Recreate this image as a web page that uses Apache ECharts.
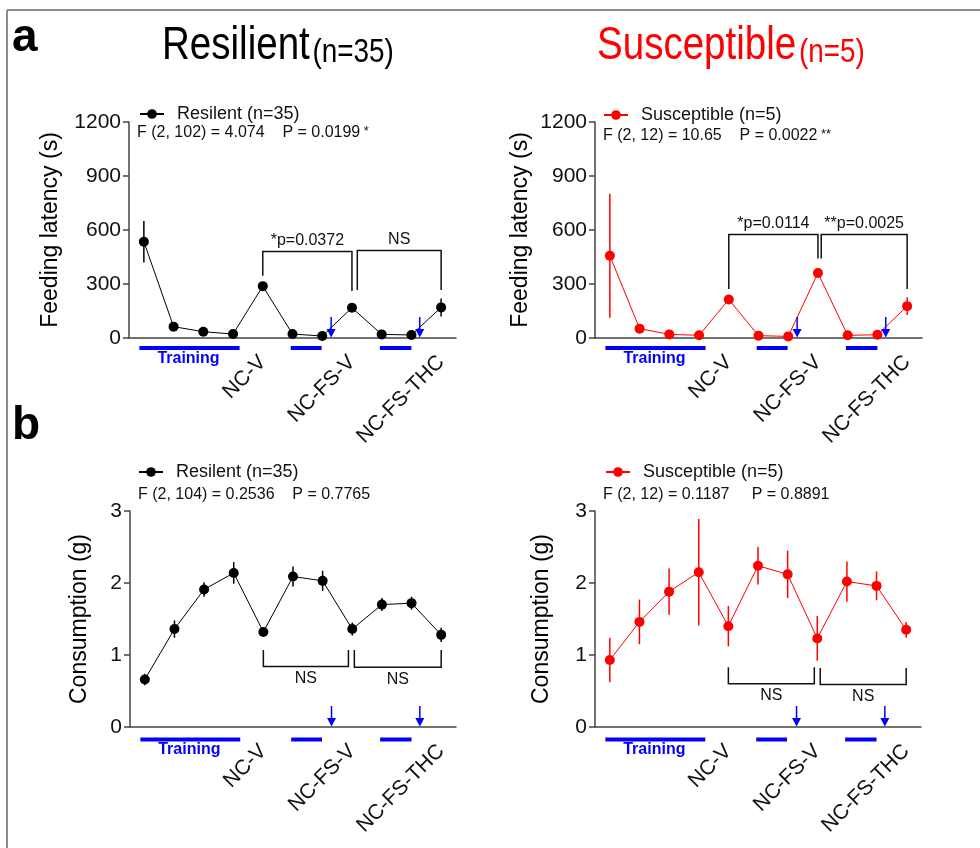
<!DOCTYPE html>
<html>
<head>
<meta charset="utf-8">
<script src="https://cdn.jsdelivr.net/npm/echarts@6/dist/echarts.min.js"></script>
<style>
html, body { margin: 0; padding: 0; background: #fff; }
#chart { width: 980px; height: 848px; }
</style>
</head>
<body>
<div id="chart"></div>
<script>
// sessions on the x axis: 4 training days, then the test days
const sessions = ['T1', 'T2', 'T3', 'T4', 'NC-V', 'FS1', 'FS2', 'NC-FS-V', 'THC1', 'THC2', 'NC-FS-THC'];
const shownLabels = ['NC-V', 'NC-FS-V', 'NC-FS-THC'];

const latencyTicks = [0, 300, 600, 900, 1200];
const consTicks = [0, 1, 2, 3];

// feeding latency (s): mean and SEM
const latencyRes = [535, 63, 35, 22, 288, 22, 11, 168, 20, 17, 170];
const latencyResErr = [115, 8, 6, 5, 14, 5, 4, 16, 5, 4, 50];
const latencySus = [457, 52, 20, 15, 214, 13, 9, 361, 15, 18, 177];
const latencySusErr = [345, 10, 6, 4, 12, 4, 3, 14, 5, 5, 49];

// consumption (g): mean and SEM
const consRes = [0.66, 1.36, 1.91, 2.14, 1.32, 2.09, 2.03, 1.36, 1.70, 1.72, 1.28];
const consResErr = [0.08, 0.12, 0.10, 0.15, 0.05, 0.14, 0.14, 0.09, 0.09, 0.09, 0.10];
const consSus = [0.93, 1.46, 1.88, 2.15, 1.40, 2.24, 2.12, 1.23, 2.02, 1.96, 1.35];
const consSusErr = [0.31, 0.31, 0.32, 0.74, 0.28, 0.26, 0.33, 0.31, 0.28, 0.20, 0.11];

// comparison brackets: [from, to, bar y, left leg end, right leg end, label]
const bracketsLatRes = [[4, 7, 481, 346, 261, '*p=0.0372'], [7.18, 10, 486, 266, 266, 'NS']];
const bracketsLatSus = [[4, 7, 575, 272, 442, '*p=0.0114'], [7.11, 10, 575, 442, 272, '**p=0.0025']];
const bracketsConsRes = [[4, 6.87, 0.84, 1.07, 1.07, 'NS'], [7.07, 10, 0.83, 1.07, 1.07, 'NS']];
const bracketsConsSus = [[4, 6.9, 0.60, 0.83, 0.83, 'NS'], [7.1, 10, 0.59, 0.82, 0.82, 'NS']];

// blue marks under the axis
const arrowsAt = [6.3, 9.28];
const blueBars = [[-0.15, 3.22], [4.94, 5.98], [7.94, 9.0]];
const trainingLabel = 'Training';

const statsLatRes = ['F (2, 102) = 4.074    P = 0.0199', '*'];
const statsLatSus = ['F (2, 12) = 10.65    P = 0.0022', '**'];
const statsConsRes = ['F (2, 104) = 0.2536    P = 0.7765', ''];
const statsConsSus = ['F (2, 12) = 0.1187     P = 0.8891', ''];

const FONT = "'Liberation Sans', Arial, sans-serif";
const BLUE = '#0000ff';
const AXIS = '#444444';

const panels = [
  { g: { left: 129, top: 122, width: 327, height: 216 }, name: 'Resilent (n=35)', color: '#000000',
    means: latencyRes, errs: latencyResErr, ticks: latencyTicks, yName: 'Feeding latency (s)', nameGap: 67,
    brackets: bracketsLatRes, legendAt: [139, 114], stats: statsLatRes, statsAt: [137, 133], barGap: 10, trainGap: 21 },
  { g: { left: 595, top: 122, width: 327, height: 216 }, name: 'Susceptible (n=5)', color: '#ff0000',
    means: latencySus, errs: latencySusErr, ticks: latencyTicks, yName: 'Feeding latency (s)', nameGap: 63,
    brackets: bracketsLatSus, legendAt: [603, 115], stats: statsLatSus, statsAt: [603, 136], barGap: 10, trainGap: 21 },
  { g: { left: 130, top: 511, width: 326, height: 216 }, name: 'Resilent (n=35)', color: '#000000',
    means: consRes, errs: consResErr, ticks: consTicks, yName: 'Consumption (g)', nameGap: 39,
    brackets: bracketsConsRes, legendAt: [138, 472], stats: statsConsRes, statsAt: [138, 495], barGap: 12.5, trainGap: 23 },
  { g: { left: 595, top: 511, width: 326, height: 216 }, name: 'Susceptible (n=5)', color: '#ff0000',
    means: consSus, errs: consSusErr, ticks: consTicks, yName: 'Consumption (g)', nameGap: 42,
    brackets: bracketsConsSus, legendAt: [605, 472], stats: statsConsSus, statsAt: [603, 495], barGap: 12.5, trainGap: 23 }
];

const grid = [], xAxis = [], yAxis = [], series = [], legend = [];
const graphic = [
  { type: 'line', shape: { x1: 7, y1: 10, x2: 980, y2: 10 }, style: { stroke: '#8c8c8c', lineWidth: 2 } },
  { type: 'line', shape: { x1: 7, y1: 10, x2: 7, y2: 848 }, style: { stroke: '#8c8c8c', lineWidth: 2 } },
  { type: 'text', x: 12, y: 38, style: { text: 'a', font: 'bold 46px ' + FONT, fill: '#000', verticalAlign: 'middle' } },
  { type: 'text', x: 12, y: 426, style: { text: 'b', font: 'bold 46px ' + FONT, fill: '#000', verticalAlign: 'middle' } },
  // condensed title lettering
  { type: 'text', x: 162, y: 46, scaleX: 0.82, style: { text: '{big|Resilient} {small|(n=35)}', verticalAlign: 'middle', fill: '#000',
      rich: { big: { font: '47px ' + FONT, fill: '#000' }, small: { font: '34px ' + FONT, fill: '#000', verticalAlign: 'bottom' } } } },
  { type: 'text', x: 597, y: 46, scaleX: 0.82, style: { text: '{big|Susceptible} {small|(n=5)}', verticalAlign: 'middle', fill: '#ff0000',
      rich: { big: { font: '47px ' + FONT, fill: '#ff0000' }, small: { font: '34px ' + FONT, fill: '#ff0000', verticalAlign: 'bottom' } } } }
];

panels.forEach((p, k) => {
  const xv = 2 * k + 1;
  grid.push(Object.assign({ outerBoundsMode: 'none', containLabel: false }, p.g));
  xAxis.push({
    type: 'category', gridIndex: k, data: sessions, boundaryGap: true,
    axisLine: { onZero: false, lineStyle: { color: AXIS, width: 1.5 } },
    axisTick: { alignWithLabel: true, interval: 0, length: 6, lineStyle: { color: AXIS, width: 1.5 } },
    axisLabel: { interval: 0, rotate: 45, align: 'right', verticalAlign: 'middle', margin: 21, fontSize: 21,
      fontFamily: FONT, color: '#111', formatter: v => shownLabels.includes(v) ? v : '' },
    splitLine: { show: false }
  });
  xAxis.push({ type: 'value', gridIndex: k, min: -0.5, max: sessions.length - 0.5, show: false });
  const t = p.ticks;
  yAxis.push({
    type: 'value', gridIndex: k, min: t[0], max: t[t.length - 1], interval: t[1] - t[0],
    name: p.yName, nameLocation: 'middle', nameGap: p.nameGap,
    nameTextStyle: { fontSize: 23, fontFamily: FONT, color: '#000' },
    axisLine: { show: true, onZero: false, lineStyle: { color: AXIS, width: 1.5 } },
    axisTick: { show: true, length: 6, lineStyle: { color: AXIS, width: 1.5 } },
    axisLabel: { fontSize: 21, fontFamily: FONT, color: '#111', margin: 8, formatter: v => String(v) },
    splitLine: { show: false }
  });

  // error bars (mean ± SEM)
  series.push({
    type: 'custom', xAxisIndex: xv, yAxisIndex: k, z: 2, silent: true,
    data: p.means.map((m, i) => [i, m - p.errs[i], m + p.errs[i]]),
    renderItem: (params, api) => {
      const a = api.coord([api.value(0), api.value(1)]);
      const b = api.coord([api.value(0), api.value(2)]);
      return { type: 'line', shape: { x1: a[0], y1: a[1], x2: b[0], y2: b[1] },
        style: { stroke: p.color, lineWidth: 1.5 } };
    }
  });

  series.push({
    type: 'line', name: p.name, xAxisIndex: 2 * k, yAxisIndex: k, z: 3, data: p.means,
    symbol: 'circle', symbolSize: 10, showSymbol: true,
    lineStyle: { color: p.color, width: 1 }, itemStyle: { color: p.color }
  });

  // significance brackets
  series.push({
    type: 'custom', xAxisIndex: xv, yAxisIndex: k, z: 2, silent: true,
    data: p.brackets.map(b => b.slice(0, 5)),
    renderItem: (params, api) => {
      const x1 = api.value(0), x2 = api.value(1), yb = api.value(2);
      const l = api.coord([x1, api.value(3)]), r = api.coord([x2, api.value(4)]);
      const b1 = api.coord([x1, yb]), b2 = api.coord([x2, yb]);
      const up = api.value(3) < yb;
      return { type: 'group', children: [
        { type: 'polyline', shape: { points: [l, b1, b2, r] }, style: { stroke: '#111', lineWidth: 1.5, fill: null } },
        { type: 'text', x: (b1[0] + b2[0]) / 2, y: b1[1] + (up ? -11 : 12),
          style: { text: p.brackets[params.dataIndex][5], font: '16px ' + FONT, fill: '#111',
            align: 'center', verticalAlign: 'middle' } }
      ] };
    }
  });

  // blue arrows on the axis
  series.push({
    type: 'custom', xAxisIndex: xv, yAxisIndex: k, z: 4, silent: true,
    data: arrowsAt.map(x => [x, 0]),
    renderItem: (params, api) => {
      const c = api.coord([api.value(0), api.value(1)]);
      return { type: 'group', children: [
        { type: 'line', shape: { x1: c[0], y1: c[1] - 21, x2: c[0], y2: c[1] - 7 }, style: { stroke: BLUE, lineWidth: 1.5 } },
        { type: 'polygon', shape: { points: [[c[0] - 4.5, c[1] - 9], [c[0] + 4.5, c[1] - 9], [c[0], c[1] - 0.5]] }, style: { fill: BLUE } }
      ] };
    }
  });

  // blue session bars under the axis
  series.push({
    type: 'custom', xAxisIndex: xv, yAxisIndex: k, z: 4, silent: true,
    data: blueBars.map(b => [b[0], 0, b[1]]),
    renderItem: (params, api) => {
      const a = api.coord([api.value(0), 0]), b = api.coord([api.value(2), 0]);
      const kids = [{ type: 'line', shape: { x1: a[0], y1: a[1] + p.barGap, x2: b[0], y2: b[1] + p.barGap },
        style: { stroke: BLUE, lineWidth: 4 } }];
      if (params.dataIndex === 0) {
        kids.push({ type: 'text', x: (a[0] + b[0]) / 2 - 1, y: a[1] + p.trainGap,
          style: { text: trainingLabel, font: 'bold 16px ' + FONT, fill: BLUE, align: 'center', verticalAlign: 'middle' } });
      }
      return { type: 'group', children: kids };
    }
  });

  legend.push({
    data: [p.name], left: p.legendAt[0], top: p.legendAt[1] - 9, padding: 0,
    itemWidth: 24, itemHeight: 12, selectedMode: false,
    textStyle: { fontSize: 18, fontFamily: FONT, color: '#111', padding: [0, 0, 0, 8] }
  });

  graphic.push({
    type: 'text', x: p.statsAt[0], y: p.statsAt[1],
    style: { text: '{t|' + p.stats[0] + '}' + (p.stats[1] ? '{s| ' + p.stats[1] + '}' : ''), verticalAlign: 'middle',
      rich: { t: { font: '16px ' + FONT, fill: '#111' }, s: { font: '13px ' + FONT, fill: '#111', verticalAlign: 'top' } } }
  });
});

const chart = echarts.init(document.getElementById('chart'));
chart.setOption({
  animation: false,
  backgroundColor: '#ffffff',
  textStyle: { fontFamily: FONT },
  grid, xAxis, yAxis, series, legend, graphic
});
</script>
</body>
</html>
